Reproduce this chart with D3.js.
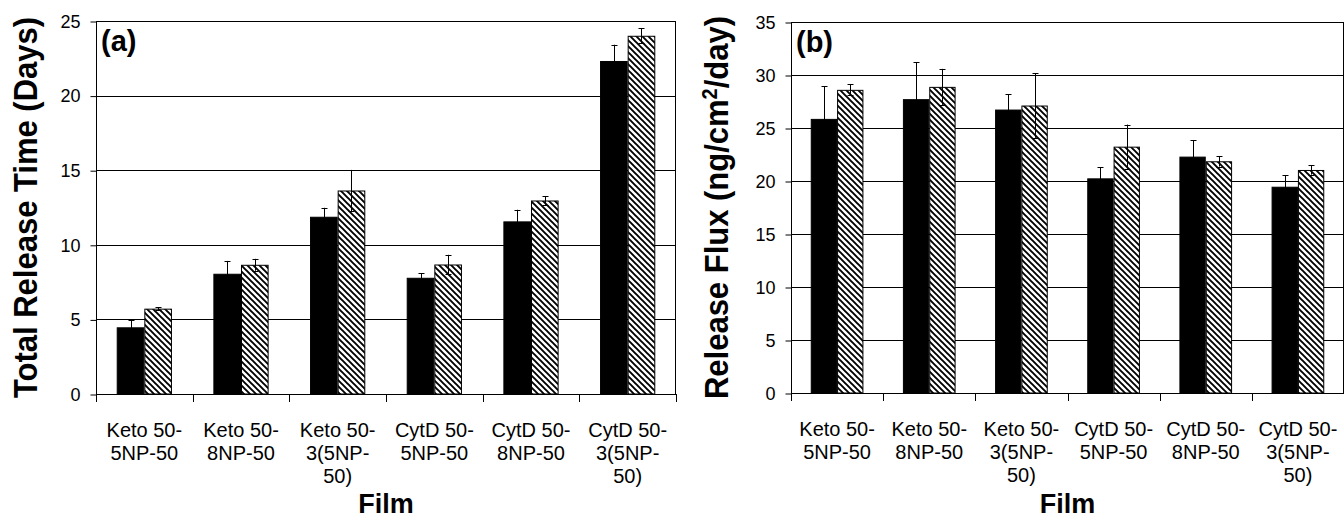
<!DOCTYPE html>
<html><head><meta charset="utf-8">
<script src="https://cdn.jsdelivr.net/npm/d3@7"></script>
<style>
html,body{margin:0;padding:0;background:#fff;}
svg{display:block;}
text{font-family:"Liberation Sans",Arial,sans-serif;fill:#000;}
</style></head>
<body>
<svg id="chart" width="1344" height="519"></svg>
<script>
// ---- data ----
const films = [
  ["Keto 50-","5NP-50"],
  ["Keto 50-","8NP-50"],
  ["Keto 50-","3(5NP-","50)"],
  ["CytD 50-","5NP-50"],
  ["CytD 50-","8NP-50"],
  ["CytD 50-","3(5NP-","50)"]
];
// panel (a) total release time (days)
const timeSolid   = [4.47, 8.06, 11.88, 7.79, 11.57, 22.32];
const timeSolidErr= [0.52, 0.86, 0.60, 0.29, 0.78, 1.09];
const timeHatch   = [5.72, 8.66, 13.64, 8.68, 12.97, 24.01];
const timeHatchErr= [0.08, 0.40, 1.38, 0.65, 0.29, 0.51];
const timeTicks   = [0, 5, 10, 15, 20, 25];
// panel (b) release flux (ng/cm2/day)
const fluxSolid   = [25.86, 27.72, 26.74, 20.25, 22.30, 19.46];
const fluxSolidErr= [3.08, 3.46, 1.45, 1.07, 1.54, 1.08];
const fluxHatch   = [28.60, 28.88, 27.12, 23.24, 21.86, 21.04];
const fluxHatchErr= [0.53, 1.70, 3.05, 2.08, 0.50, 0.44];
const fluxTicks   = [0, 5, 10, 15, 20, 25, 30, 35];

const svg = d3.select("#chart");
const defs = svg.append("defs");
const pat = defs.append("pattern").attr("id","hatch")
  .attr("patternUnits","userSpaceOnUse").attr("width",6).attr("height",6);
pat.append("rect").attr("width",6).attr("height",6).attr("fill","#fff");
pat.append("path").attr("d","M-1,-1L7,7M-1,5L1,7M5,-1L7,1")
  .attr("stroke","#000").attr("stroke-width",1.9);

function panel(cfg){
  const g = svg.append("g");
  const x = d3.scaleBand().domain(d3.range(films.length)).range([cfg.left,cfg.right]).paddingInner(0).paddingOuter(0);
  const y = d3.scaleLinear().domain([0,cfg.max]).range([cfg.bottom,cfg.top]);
  const bw = x.bandwidth()/3.5;
  const sub = d3.scaleBand().domain(["s","h"]).range([0.75*bw, 2.75*bw]);

  // gridlines
  g.append("g").selectAll("line").data(cfg.ticks.filter(t=>t>0 && t<cfg.max)).join("line")
    .attr("x1",cfg.left).attr("x2",cfg.right)
    .attr("y1",d=>Math.round(y(d))+0.5).attr("y2",d=>Math.round(y(d))+0.5)
    .attr("stroke","#000").attr("stroke-width",1);

  // y axis
  const ya = d3.axisLeft(y).tickValues(cfg.ticks).tickSize(6).tickPadding(10).tickFormat(d3.format("d"));
  const yg = g.append("g").attr("transform",`translate(${cfg.left+0.5},0.5)`).call(ya);
  yg.select(".domain").remove();
  yg.selectAll("line").attr("stroke","#000");
  yg.selectAll("text").attr("font-size",18).attr("font-family","'Liberation Sans',Arial,sans-serif").attr("fill","#000");

  // x axis tick marks at category boundaries
  const bounds = d3.range(films.length+1).map(i=> i<films.length ? x(i) : cfg.right);
  g.append("g").selectAll("line").data(bounds).join("line")
    .attr("x1",d=>Math.round(d)+0.5).attr("x2",d=>Math.round(d)+0.5)
    .attr("y1",cfg.bottom).attr("y2",cfg.bottom+8).attr("stroke","#000");

  // bars
  const series = [
    {key:"s", vals:cfg.solid, errs:cfg.solidErr, fill:"#000"},
    {key:"h", vals:cfg.hatch, errs:cfg.hatchErr, fill:"url(#hatch)"}
  ];
  series.forEach(s=>{
    g.append("g").selectAll("rect").data(s.vals).join("rect")
      .attr("x",(d,i)=>x(i)+sub(s.key)+0.5)
      .attr("width",sub.bandwidth()-1)
      .attr("y",d=>y(d)+0.5)
      .attr("height",d=>cfg.bottom-y(d)-0.5)
      .attr("fill",s.fill).attr("stroke","#000").attr("stroke-width",1);
  });
  // error bars
  series.forEach(s=>{
    const eg = g.append("g");
    s.vals.forEach((v,i)=>{
      const cx = Math.round(x(i)+sub(s.key)+sub.bandwidth()/2)+0.5;
      const y1 = y(v+s.errs[i]), y2 = y(v-s.errs[i]);
      eg.append("line").attr("x1",cx).attr("x2",cx).attr("y1",y1).attr("y2",y2).attr("stroke","#000");
      eg.append("line").attr("x1",cx-3).attr("x2",cx+3).attr("y1",Math.round(y1)+0.5).attr("y2",Math.round(y1)+0.5).attr("stroke","#000");
      eg.append("line").attr("x1",cx-3).attr("x2",cx+3).attr("y1",Math.round(y2)+0.5).attr("y2",Math.round(y2)+0.5).attr("stroke","#000");
    });
  });

  // frame
  g.append("rect").attr("x",cfg.left+0.5).attr("y",cfg.top+0.5)
    .attr("width",cfg.right-cfg.left-1).attr("height",cfg.bottom-cfg.top)
    .attr("fill","none").attr("stroke","#000").attr("stroke-width",1);
  g.append("line").attr("x1",cfg.left).attr("x2",cfg.right).attr("y1",cfg.bottom+0.5).attr("y2",cfg.bottom+0.5).attr("stroke","#000");

  // category labels
  films.forEach((lines,i)=>{
    const t = g.append("text").attr("text-anchor","middle").attr("font-size",20)
      .attr("transform",`translate(${x(i)+x.bandwidth()/2},${cfg.bottom+43})`);
    lines.forEach((ln,k)=> t.append("tspan").attr("x",0).attr("y",k*23).text(ln));
  });

  // panel letter
  g.append("text").attr("x",cfg.left+5).attr("y",cfg.top+30).attr("font-size",29).attr("font-weight","bold").text(cfg.letter);

  // x title
  g.append("text").attr("text-anchor","middle").attr("font-size",27).attr("font-weight","bold")
    .attr("x",(cfg.left+cfg.right)/2).attr("y",513).text("Film");

  // y title
  const yt = g.append("text").attr("text-anchor","middle").attr("font-size",31).attr("font-weight","bold")
    .attr("transform",`translate(${cfg.ytx},${(cfg.top+cfg.bottom)/2}) scale(1.08,1) rotate(-90)`);
  cfg.ytitle(yt);
}

panel({left:96,right:676,top:21,bottom:394,max:25,ticks:timeTicks,
  solid:timeSolid,solidErr:timeSolidErr,hatch:timeHatch,hatchErr:timeHatchErr,
  letter:"(a)",ytx:37,
  ytitle:t=>t.text("Total Release Time (Days)")});
panel({left:791,right:1344,top:22,bottom:393,max:35,ticks:fluxTicks,
  solid:fluxSolid,solidErr:fluxSolidErr,hatch:fluxHatch,hatchErr:fluxHatchErr,
  letter:"(b)",ytx:728,
  ytitle:t=>{t.append("tspan").text("Release Flux (ng/cm");
    t.append("tspan").attr("baseline-shift","super").attr("font-size",20).text("2");
    t.append("tspan").text("/day)");}});
</script>
</body></html>
